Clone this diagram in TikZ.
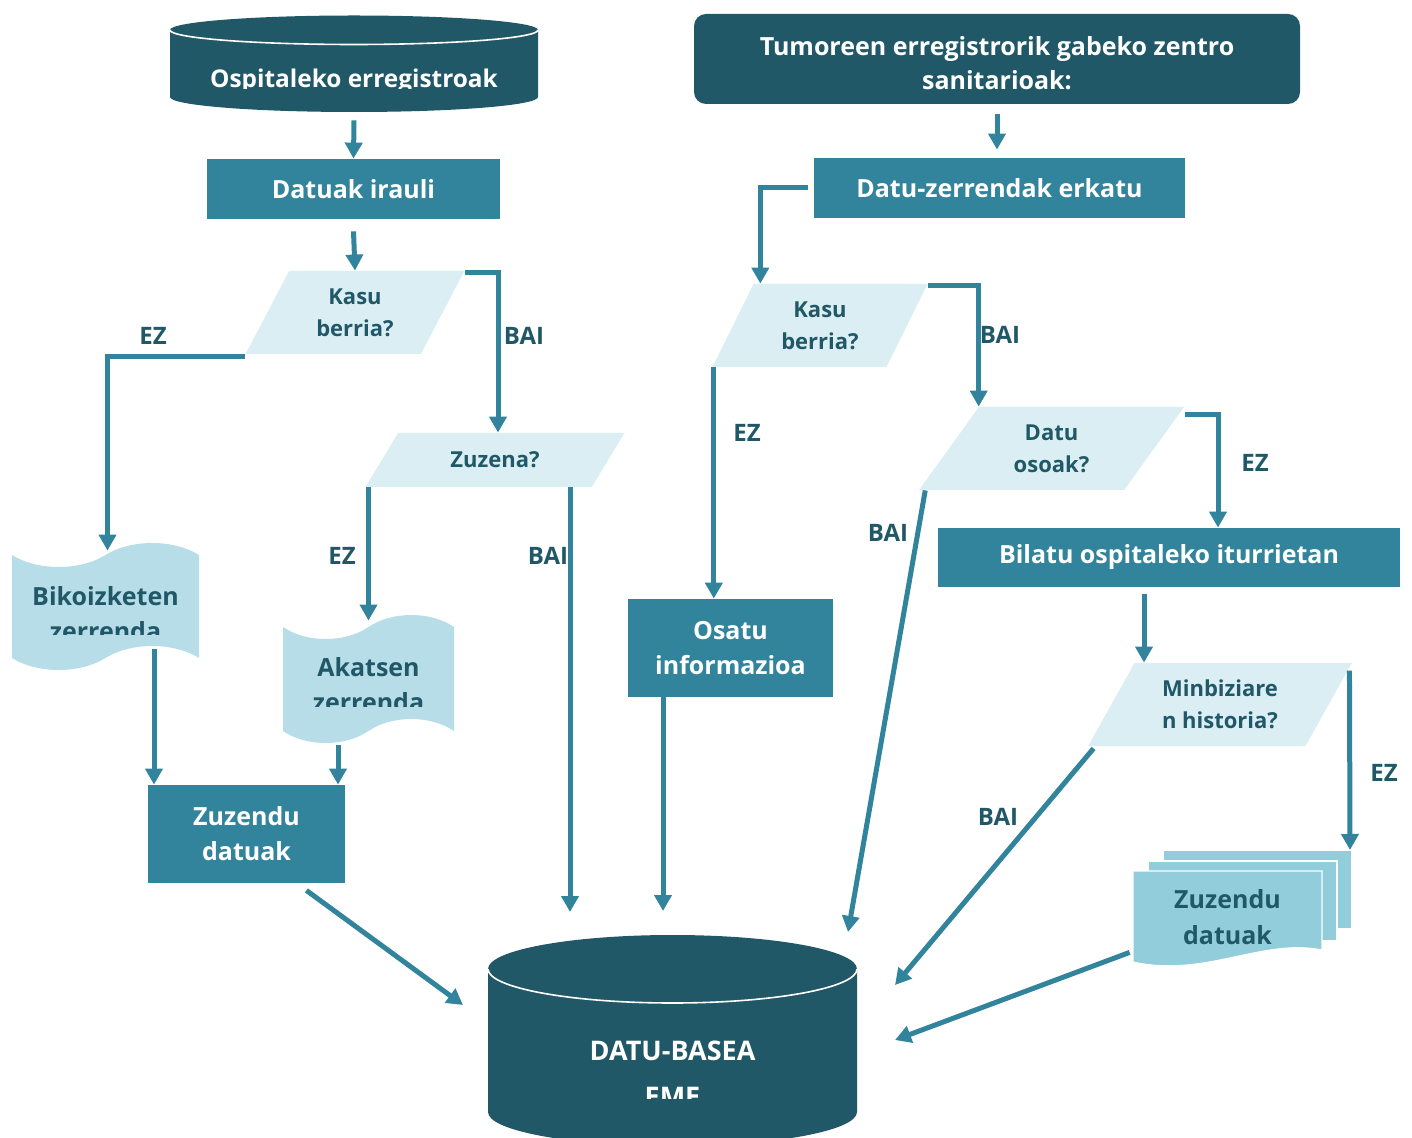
\documentclass[tikz,border=0pt]{standalone}
\usepackage{fontspec}
\setmainfont{Open Sans}
\usetikzlibrary{shapes.geometric, shapes.symbols, arrows.meta}

\definecolor{darkteal}{HTML}{215868}
\definecolor{midteal}{HTML}{31849B}
\definecolor{listblue}{HTML}{B7DDE8}
\definecolor{askblue}{HTML}{DAEEF3}
\definecolor{stackblue}{HTML}{92CDDC}

\tikzstyle{headbox} = [rectangle, rounded corners=6pt, inner sep=0pt, text centered, align=center, fill=darkteal, text=white, font=\bfseries\fontsize{12.5}{17}\selectfont]
\tikzstyle{process} = [rectangle, inner sep=0pt, text centered, align=center, fill=midteal, text=white, font=\bfseries\fontsize{12.5}{17.5}\selectfont]
\tikzstyle{ask} = [trapezium, trapezium stretches=true, inner sep=0pt, align=center, fill=askblue, text=darkteal, font=\bfseries\fontsize{11}{16}\selectfont]
\tikzstyle{listdoc} = [tape, tape bend top=in and out, tape bend bottom=in and out, tape bend height=12pt, inner sep=0pt, fill=listblue]
\tikzstyle{doctext} = [align=center, text=darkteal, font=\bfseries\fontsize{12.5}{17.5}\selectfont]
\tikzstyle{cyltext} = [align=center, text=white, font=\bfseries\fontsize{12.5}{23}\selectfont]
\tikzstyle{branch} = [text=darkteal, font=\bfseries\fontsize{12}{14}\selectfont]
\tikzstyle{sheet} = [fill=stackblue, draw=white, line width=0.6pt]
\tikzstyle{arrow} = [line width=2.5pt, draw=midteal, -{Triangle[width=8.5pt,length=8pt]}]

\begin{document}
\begin{tikzpicture}[x=0.5pt, y=-0.5pt]
\useasboundingbox (0,0) rectangle (1412,1138);

\fill[darkteal] (170,30) -- (170,97) arc[start angle=180, end angle=0, x radius=184, y radius=15] -- (538,30) arc[start angle=0, end angle=-180, x radius=184, y radius=14.5] -- cycle;
\draw[white, line width=0.8pt] (170,30) arc[start angle=180, end angle=0, x radius=184, y radius=14.5];
\node (ospit) [minimum width=184pt, minimum height=49pt] at (354,63) {};
\begin{scope}
\clip (170,50) rectangle (538,89);
\node [cyltext, anchor=base, font=\bfseries\fontsize{12.2}{23}\selectfont] at (354,88) {Ospitaleko erregistroak};
\end{scope}

\node (irauli) [process, minimum width=146.5pt, minimum height=30pt] at (353.5,189) {Datuak irauli};
\node (kasuA) [ask, trapezium left angle=62, trapezium right angle=118, minimum width=110pt, minimum height=41.5pt] at (355,312.5) {Kasu\\berria?};
\node (zuzena) [ask, trapezium left angle=47, trapezium right angle=133, minimum width=130pt, minimum height=27pt] at (495,460) {Zuzena?};

\node (bikoiz) [listdoc, minimum width=93.5pt, minimum height=63.5pt] at (105.5,606.5) {};
\begin{scope}
\clip (12,560) rectangle (199,634);
\node [doctext] at (105.5,614) {Bikoizketen\\zerrenda};
\end{scope}
\node (akatsen) [listdoc, minimum width=85.5pt, minimum height=64pt] at (368.5,679) {};
\begin{scope}
\clip (283,630) rectangle (454,706);
\node [doctext] at (368.5,685) {Akatsen\\zerrenda};
\end{scope}

\node (zuzendu) [process, minimum width=98.5pt, minimum height=49pt] at (246.5,834) {Zuzendu\\datuak};

\node (zentro) [headbox, minimum width=303pt, minimum height=45pt] at (997,59) {\rule{0pt}{14pt}Tumoreen erregistrorik gabeko zentro\\sanitarioak:};
\node (erkatu) [process, minimum width=185.5pt, minimum height=30pt] at (999.5,188) {Datu-zerrendak erkatu};
\node (kasuB) [ask, trapezium left angle=63.5, trapezium right angle=116.5, minimum width=108pt, minimum height=41.5pt] at (820,325.5) {Kasu\\berria?};
\node (osoak) [ask, trapezium left angle=57, trapezium right angle=123, minimum width=133.5pt, minimum height=41.5pt] at (1051.5,448.5) {Datu\\osoak?};
\node (bilatu) [process, minimum width=231pt, minimum height=29.5pt] at (1169,557.5) {Bilatu ospitaleko iturrietan};
\node (osatu) [process, minimum width=102.5pt, minimum height=49pt] at (730.5,648) {Osatu\\informazioa};
\node (historia) [ask, trapezium left angle=57.4, trapezium right angle=122.6, minimum width=133pt, minimum height=41.5pt] at (1220,704.5) {Minbiziare\\n historia?};

\draw[sheet] (1163,850) rectangle (1352,929);
\draw[sheet] (1148,861) rectangle (1337,941);
\draw[sheet] (1133,871) -- (1322,871) -- (1322,950) .. controls (1262,938) and (1205,978) .. (1133,962) -- cycle;
\node (stack) [doctext, minimum width=94.5pt, minimum height=48pt, font=\bfseries\fontsize{12.5}{18}\selectfont] at (1227.5,917.5) {Zuzendu\\datuak};

\fill[darkteal] (488,969) -- (488,1112) arc[start angle=180, end angle=0, x radius=184.5, y radius=34] -- (857,969) arc[start angle=0, end angle=-180, x radius=184.5, y radius=34] -- cycle;
\draw[white, line width=0.8pt] (488,969) arc[start angle=180, end angle=0, x radius=184.5, y radius=34];
\node (db) [minimum width=184.5pt, minimum height=105pt] at (672.5,1040) {};
\begin{scope}
\clip (488,1000) rectangle (857,1098);
\node [cyltext, font=\bfseries\fontsize{13.5}{23}\selectfont] at (672.5,1074) {DATU-BASEA\\EME};
\end{scope}

\coordinate (dbA) at (570,912);
\coordinate (dbB) at (663,911);
\coordinate (dbC) at (848,932);
\coordinate (dbD) at (895,985);
\coordinate (dbE) at (895,1040);
\coordinate (dbF) at (463,1005);
\coordinate (stackTop) at (1350,850);

\draw [arrow] ([yshift=-4pt]ospit.south) -- (irauli.north);
\draw [arrow] ([yshift=-6pt]irauli.south) -- (kasuA.north);
\draw [arrow] ([yshift=-1pt]kasuA.bottom left corner) -| ([xshift=1pt,yshift=2pt]bikoiz.north);
\draw [arrow] ([yshift=-1pt]kasuA.top right corner) -| ([xshift=1.5pt]zuzena.north);
\draw [arrow] (zuzena.bottom left corner -| akatsen.north) -- ([yshift=3pt]akatsen.north);
\draw [arrow] (zuzena.south -| dbA) -- (dbA);
\draw [arrow] ([xshift=24.25pt,yshift=4.5pt]bikoiz.south) -- ([xshift=24.25pt]bikoiz.south |- zuzendu.north);
\draw [arrow] ([xshift=-15.25pt,yshift=-7pt]akatsen.south) -- ([xshift=-15.25pt]akatsen.south |- zuzendu.north);
\draw [arrow] ([xshift=-19.5pt,yshift=-3.5pt]zuzendu.south east) -- (dbF);

\draw [arrow] ([yshift=-5pt]zentro.south) -- ([yshift=4pt]erkatu.north -| zentro.south);
\draw [arrow] ([xshift=-3pt]erkatu.west) -| ([xshift=3.5pt]kasuB.top left corner);
\draw [arrow] ([xshift=1pt]kasuB.bottom left corner) -- ([xshift=1pt]kasuB.bottom left corner |- osatu.north);
\draw [arrow] ([yshift=-1pt]kasuB.top right corner) -| (osoak.top left corner);
\draw [arrow] ([xshift=-33.75pt]osatu.south) -- (dbB);
\draw [arrow] ([yshift=-4pt]osoak.top right corner) -| ([xshift=24.5pt]bilatu.north);
\draw [arrow] ([xshift=3.5pt]osoak.bottom left corner) -- (dbC);
\draw [arrow] ([xshift=-12.5pt,yshift=-3.5pt]bilatu.south) -- ([xshift=-12.5pt]bilatu.south |- historia.north);
\draw [arrow] ([xshift=-1.5pt,yshift=-4pt]historia.top right corner) -- (stackTop);
\draw [arrow] ([xshift=3pt,yshift=-1pt]historia.bottom left corner) -- (dbD);
\draw [arrow] ([xshift=-1.5pt,yshift=6.75pt]stack.south west) -- (dbE);

\node [branch] at (153,336) {EZ};
\node [branch] at (524,336) {BAI};
\node [branch] at (342,556) {EZ};
\node [branch] at (548,556) {BAI};
\node [branch] at (747,433) {EZ};
\node [branch] at (1000,335) {BAI};
\node [branch] at (1255,463) {EZ};
\node [branch] at (888,533) {BAI};
\node [branch] at (1384,773) {EZ};
\node [branch] at (998,817) {BAI};
\end{tikzpicture}
\end{document}
